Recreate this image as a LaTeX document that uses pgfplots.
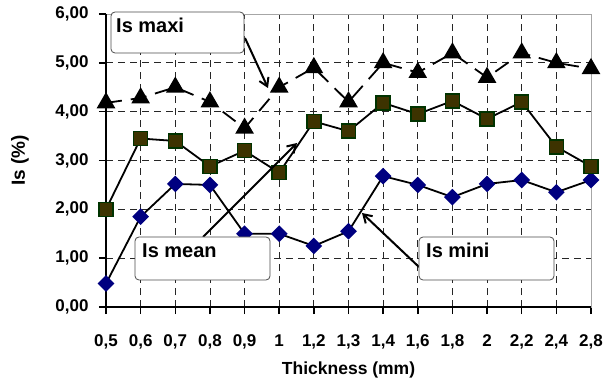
\documentclass[border=0pt]{standalone}
\usepackage{fontspec}
\setmainfont{Liberation Sans}
\usepackage{pgfplots}
\usepackage{pgfplotstable}
\pgfplotsset{compat=1.18}
\usetikzlibrary{arrows.meta}
\definecolor{sqfill}{HTML}{3D3300}
\definecolor{sqedge}{HTML}{003300}
\definecolor{navy}{HTML}{000080}
\pgfplotstableread{
x maxi mean mini
0  4.18 2.00 0.48
1  4.28 3.45 1.85
2  4.50 3.40 2.52
3  4.20 2.88 2.50
4  3.66 3.20 1.50
5  4.50 2.75 1.50
6  4.90 3.80 1.25
7  4.20 3.60 1.55
8  5.00 4.18 2.68
9  4.80 3.95 2.50
10 5.20 4.22 2.25
11 4.70 3.85 2.52
12 5.20 4.20 2.60
13 5.00 3.28 2.35
14 4.88 2.88 2.60
}\datatable
\begin{document}
\begin{tikzpicture}[x=1pt,y=1pt]
\begin{axis}[
  at={(0,0)}, anchor=south west,
  scale only axis, width=485pt, height=293pt,
  xmin=0, xmax=14, ymin=0, ymax=6,
  xtick={0,...,14},
  xticklabels={{0,5},{0,6},{0,7},{0,8},{0,9},1,{1,2},{1,3},{1,4},{1,6},{1,8},2,{2,2},{2,4},{2,8}},
  ytick={0,...,6},
  /pgf/number format/assume math mode=true,
  yticklabel={\pgfmathprintnumber[fixed,fixed zerofill,precision=2,use comma]{\tick}},
  ticklabel style={font=\bfseries\fontsize{17}{19}\selectfont},
  xticklabel style={yshift=-17pt},
  yticklabel style={xshift=-7pt},
  grid=major,
  major grid style={black!85, line width=0.8pt, dash pattern=on 7pt off 5pt},
  axis line style={draw=gray!70, line width=0.8pt},
  xtick pos=bottom, ytick pos=left,
  tick align=outside, major tick length=7pt,
  tick style={black, line width=1.5pt},
  clip=false,
]
\addplot[black, line width=1.8pt, mark=square*, mark size=5pt,
  mark options={solid, fill=navy, draw=navy, rotate=45}] table[x=x,y=mini]{\datatable};
\addplot[black, line width=1.8pt, mark=square*, mark size=7pt,
  mark options={solid, fill=sqfill, draw=sqedge, line width=1.5pt}] table[x=x,y=mean]{\datatable};
\addplot[black, line width=1.8pt, dash pattern=on 16pt off 9pt, mark=triangle*, mark size=9pt,
  mark options={solid, fill=black}] table[x=x,y=maxi]{\datatable};
\draw[black, line width=2pt] (rel axis cs:0,1) -- (rel axis cs:0,0) -- (rel axis cs:1,0);
\end{axis}
% callouts
\begin{scope}[line width=2pt, -{Straight Barb[length=8pt,width=10pt]}]
\draw (139,269) -- (162,219);
\draw (97,70) -- (191,164);
\draw (313,40) -- (256,94);
\end{scope}
\filldraw[draw=black!70, fill=white, line width=0.8pt, rounded corners=4pt] (5,254) rectangle (138,295);
\filldraw[draw=black!70, fill=white, line width=0.8pt, rounded corners=4pt] (29,27) rectangle (164,70);
\filldraw[draw=black!70, fill=white, line width=0.8pt, rounded corners=4pt] (313,27) rectangle (448,70);
\node[anchor=base west, inner sep=0, font=\bfseries\fontsize{20}{22}\selectfont] at (10,274) {Is maxi};
\node[anchor=base west, inner sep=0, font=\bfseries\fontsize{20}{22}\selectfont] at (36,49) {Is mean};
\node[anchor=base west, inner sep=0, font=\bfseries\fontsize{20}{22}\selectfont] at (320,49) {Is mini};
\node[rotate=90, inner sep=0, font=\bfseries\fontsize{19}{21}\selectfont] at (-86,146.5) {Is (\%)};
\node[inner sep=0, font=\bfseries\fontsize{17.5}{19}\selectfont] at (242.5,-63) {Thickness (mm)};
\pgfresetboundingbox
\path (-106,-78) rectangle (498,307);
\end{tikzpicture}
\end{document}
